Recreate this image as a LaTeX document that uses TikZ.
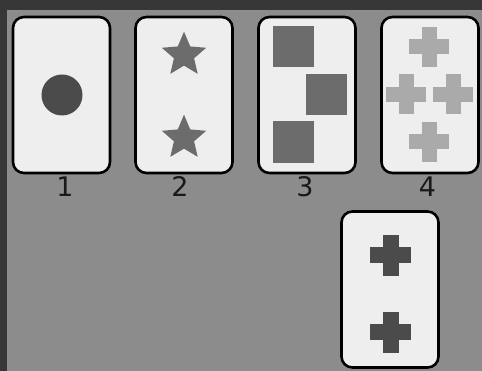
\documentclass[tikz,border=0pt]{standalone}
\usepackage{fontspec}
\setmainfont{DejaVu Sans}
\usetikzlibrary{shapes.geometric}
\definecolor{board}{RGB}{140,140,140}
\definecolor{rim}{RGB}{55,55,55}
\definecolor{face}{RGB}{238,238,238}
\definecolor{ink}{RGB}{75,75,75}
\definecolor{inkmid}{RGB}{108,108,108}
\definecolor{inklight}{RGB}{170,170,170}

\begin{document}
\begin{tikzpicture}[x=0.03cm,y=-0.03cm,
  card/.style={draw=black,line width=2.2pt,fill=face,rounded corners=0.33cm,
    minimum width=2.91cm,minimum height=4.68cm,inner sep=0pt},
  num/.style={font=\fontsize{23}{26}\selectfont,text=black!90,inner sep=0pt},
  tile/.style={fill=inkmid,minimum size=1.23cm,inner sep=0pt}]
  \useasboundingbox (0,0) rectangle (482,371);
  % table
  \fill[rim] (0,0) rectangle (482,371);
  \fill[board] (7,10) rectangle (482,371);
  % key cards and the card to sort
  \node[card] (c1) at (61.5,95) {};
  \node[card] (c2) at (184,95) {};
  \node[card] (c3) at (307,95) {};
  \node[card] (c4) at (430,95) {};
  \node[card] (c5) at (390,289.5) {};
  \foreach \n/\x in {1/65,2/180,3/305,4/427.5}
    \node[num] (l\n) at (\x,187) {\n};
  % card 1
  \node[circle,fill=ink,minimum size=1.23cm,inner sep=0pt] (dot) at (62,95) {};
  % card 2
  \foreach \s/\y in {1/55,2/138}
    \node[star,star points=5,star point ratio=2.2,fill=inkmid,
      minimum size=1.4cm,inner sep=0pt] (st\s) at (184,\y) {};
  % card 3
  \node[tile] (sq1) at (293.5,47) {};
  \node[tile] (sq2) at (326.5,95) {};
  \node[tile] (sq3) at (293.5,142) {};
  % card 4
  \foreach \cx/\cy in {429/47,406/94.5,453/94.5,429/142} {
    \fill[inklight] ({\cx-20},{\cy-7.5}) rectangle ++(40,15);
    \fill[inklight] ({\cx-7.5},{\cy-20}) rectangle ++(15,40);}
  % card 5
  \foreach \cx/\cy in {390.5/255,390.5/332} {
    \fill[ink] ({\cx-20.5},{\cy-8}) rectangle ++(41,16);
    \fill[ink] ({\cx-8},{\cy-20.5}) rectangle ++(16,41);}
\end{tikzpicture}
\end{document}
